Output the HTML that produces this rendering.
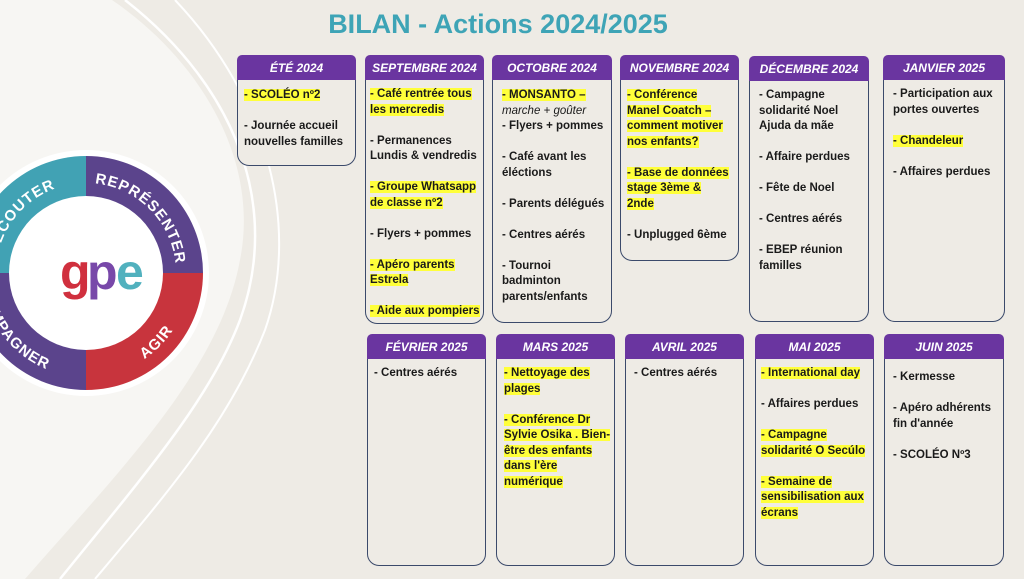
<!DOCTYPE html>
<html><head><meta charset="utf-8"><style>
body{margin:0;width:1024px;height:579px;overflow:hidden;background:#eeebe5;font-family:"Liberation Sans",sans-serif;position:relative}
.t{position:absolute;left:0;width:996px;top:9px;text-align:center;color:#3ea4b6;font-weight:bold;font-size:27px}
.b{position:absolute;border:1.5px solid #3b4a6b;border-radius:12px;background:#eeebe5;box-sizing:border-box}
.h{position:absolute;background:#6a35a0;color:#fff;font-weight:bold;font-style:italic;font-size:12px;text-align:center;height:25px;line-height:26px;border-radius:5px 5px 0 0;box-sizing:border-box}
.c{position:absolute;font-weight:bold;font-size:11.5px;line-height:15.5px;color:#1a1a1a}
.y{background:#ffff3a}
.i{font-weight:normal;font-style:italic}
</style></head><body>
<svg width="1024" height="579" style="position:absolute;left:0;top:0" font-family="Liberation Sans" font-weight="bold">
<defs>
<path id="top" d="M-4 273 A90 90 0 0 1 176 273"/>
<path id="bot" d="M-18 273 A104 104 0 0 0 190 273"/>
</defs>
<path d="M0 0 L112 0 C200 60 260 160 240 260 C220 370 120 470 25 579 L0 579Z" fill="#f7f6f3"/>
<path d="M125 0 C240 90 280 210 240 320 C210 400 140 480 60 579" stroke="#fff" stroke-width="2.5" fill="none"/>
<path d="M175 0 C270 100 300 230 265 330 C230 420 170 490 95 579" stroke="#fff" stroke-width="2" fill="none"/>
<circle cx="86" cy="273" r="123" fill="#fff"/>
<path d="M86 273 L86 156 A117 117 0 0 0 -31 273Z" fill="#41a2b4"/>
<path d="M86 273 L86 156 A117 117 0 0 1 203 273Z" fill="#5b448c"/>
<path d="M86 273 L203 273 A117 117 0 0 1 86 390Z" fill="#c8343d"/>
<path d="M86 273 L86 390 A117 117 0 0 1 -31 273Z" fill="#5b448c"/>
<circle cx="86" cy="273" r="77" fill="#fff"/>
<text x="60" y="289" font-size="50" fill="#d0303e">g</text>
<text x="87" y="289" font-size="50" fill="#6a35a0" opacity=".9">p</text>
<text x="116" y="289" font-size="50" fill="#3fa9b8" opacity=".9">e</text>
<text font-size="15" fill="#fff" letter-spacing="1"><textPath href="#top" startOffset="30">ECOUTER</textPath></text>
<text font-size="15" fill="#fff" letter-spacing="1"><textPath href="#top" startOffset="150">REPRÉSENTER</textPath></text>
<text font-size="15" fill="#fff" letter-spacing="1"><textPath href="#bot" startOffset="28">OMPAGNER</textPath></text>
<text font-size="15" fill="#fff" letter-spacing="1"><textPath href="#bot" startOffset="225">AGIR</textPath></text>
</svg>
<div class="t">BILAN - Actions 2024/2025</div>

<div class="b" style="left:237px;top:55px;width:119px;height:111px"></div><div class="h" style="left:237px;top:55px;width:119px">ÉTÉ 2024</div>
<div class="c" style="left:244px;top:88px"><span class="y">- SCOLÉO nº2</span><br><br>- Journée accueil<br>nouvelles familles</div>

<div class="b" style="left:365px;top:55px;width:119px;height:269px"></div><div class="h" style="left:365px;top:55px;width:119px">SEPTEMBRE 2024</div>
<div class="c" style="left:370px;top:87px"><span class="y">- Café rentrée tous</span><br><span class="y">les mercredis</span><br><br>- Permanences<br>Lundis &amp; vendredis<br><br><span class="y">- Groupe Whatsapp</span><br><span class="y">de classe nº2</span><br><br>- Flyers + pommes<br><br><span class="y">- Apéro parents</span><br><span class="y">Estrela</span><br><br><span class="y">- Aide aux pompiers</span></div>

<div class="b" style="left:492px;top:55px;width:120px;height:268px"></div><div class="h" style="left:492px;top:55px;width:120px">OCTOBRE 2024</div>
<div class="c" style="left:502px;top:88px"><span class="y">- MONSANTO –</span><br><span class="i">marche + goûter</span><br>- Flyers + pommes<br><br>- Café avant les<br>éléctions<br><br>- Parents délégués<br><br>- Centres aérés<br><br>- Tournoi<br>badminton<br>parents/enfants</div>

<div class="b" style="left:620px;top:55px;width:119px;height:206px"></div><div class="h" style="left:620px;top:55px;width:119px">NOVEMBRE 2024</div>
<div class="c" style="left:627px;top:88px"><span class="y">- Conférence</span><br><span class="y">Manel Coatch –</span><br><span class="y">comment motiver</span><br><span class="y">nos enfants?</span><br><br><span class="y">- Base de données</span><br><span class="y">stage 3ème &amp;</span><br><span class="y">2nde</span><br><br>- Unplugged 6ème</div>

<div class="b" style="left:749px;top:56px;width:120px;height:266px"></div><div class="h" style="left:749px;top:56px;width:120px">DÉCEMBRE 2024</div>
<div class="c" style="left:759px;top:88px">- Campagne<br>solidarité Noel<br>Ajuda da mãe<br><br>- Affaire perdues<br><br>- Fête de Noel<br><br>- Centres aérés<br><br>- EBEP réunion<br>familles</div>

<div class="b" style="left:883px;top:55px;width:122px;height:267px"></div><div class="h" style="left:883px;top:55px;width:122px">JANVIER 2025</div>
<div class="c" style="left:893px;top:87px">- Participation aux<br>portes ouvertes<br><br><span class="y">- Chandeleur</span><br><br>- Affaires perdues</div>

<div class="b" style="left:367px;top:334px;width:119px;height:232px"></div><div class="h" style="left:367px;top:334px;width:119px">FÉVRIER 2025</div>
<div class="c" style="left:374px;top:366px">- Centres aérés</div>

<div class="b" style="left:496px;top:334px;width:119px;height:232px"></div><div class="h" style="left:496px;top:334px;width:119px">MARS 2025</div>
<div class="c" style="left:504px;top:366px"><span class="y">- Nettoyage des</span><br><span class="y">plages</span><br><br><span class="y">- Conférence Dr</span><br><span class="y">Sylvie Osika . Bien-</span><br><span class="y">être des enfants</span><br><span class="y">dans l'ère</span><br><span class="y">numérique</span></div>

<div class="b" style="left:625px;top:334px;width:119px;height:232px"></div><div class="h" style="left:625px;top:334px;width:119px">AVRIL 2025</div>
<div class="c" style="left:634px;top:366px">- Centres aérés</div>

<div class="b" style="left:755px;top:334px;width:119px;height:232px"></div><div class="h" style="left:755px;top:334px;width:119px">MAI 2025</div>
<div class="c" style="left:761px;top:366px"><span class="y">- International day</span><br><br>- Affaires perdues<br><br><span class="y">- Campagne</span><br><span class="y">solidarité O Secúlo</span><br><br><span class="y">- Semaine de</span><br><span class="y">sensibilisation aux</span><br><span class="y">écrans</span></div>

<div class="b" style="left:884px;top:334px;width:120px;height:232px"></div><div class="h" style="left:884px;top:334px;width:120px">JUIN 2025</div>
<div class="c" style="left:893px;top:370px">- Kermesse<br><br>- Apéro adhérents<br>fin d'année<br><br>- SCOLÉO Nº3</div>
</body></html>
